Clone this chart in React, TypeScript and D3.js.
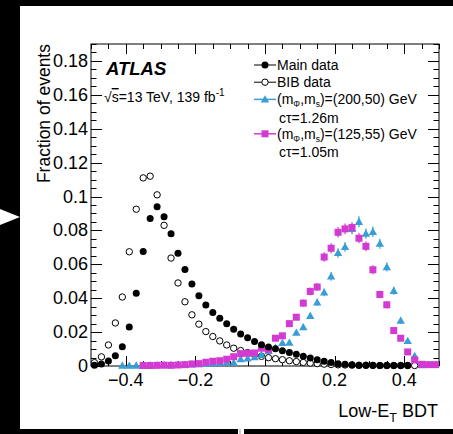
import React from 'react';
import * as d3 from 'd3';

// bins: 50 bins of 0.02 between -0.5 and 0.5
const binLow = -0.5;
const binWidth = 0.02;

const mainData = [
  0.0005, 0.0012, 0.003, 0.006, 0.0114, 0.023, 0.043, 0.0675, 0.087, 0.094,
  0.088, 0.078, 0.0665, 0.057, 0.0484, 0.0414, 0.036, 0.0316, 0.0282, 0.0249,
  0.0217, 0.0189, 0.0166, 0.0144, 0.0125, 0.0112, 0.0102, 0.009, 0.0079, 0.0069,
  0.0058, 0.0047, 0.0037, 0.0028, 0.002, 0.0014, 0.001, 0.0007, 0.0005, 0.0004,
  0.0004, 0.0003, 0.0003, 0.0003, 0.0003, 0.0003, null, null, null, null,
];

const bibData = [
  0.002, 0.0054, 0.0124, 0.0254, 0.0407, 0.0674, 0.0925, 0.111, 0.112, 0.101,
  0.083, 0.0637, 0.049, 0.0379, 0.0302, 0.0247, 0.0203, 0.0174, 0.0148, 0.0124,
  0.0105, 0.0091, 0.0079, 0.0067, 0.0057, 0.0049, 0.0043, 0.0037, 0.0031, 0.0026,
  0.0021, 0.0017, 0.0014, 0.0011, 0.0009, 0.0007, 0.0006, 0.0005, 0.0004, 0.0004,
  0.0003, 0.0003, 0.0003, 0.0003, 0.0003, 0.0003, 0.0003, null, null, null,
];

const sig200 = [
  null, null, null, null, 0.0002, 0.0002, 0.0003, 0.0003, 0.0004, 0.0005,
  0.0005, 0.0006, 0.0007, 0.0008, 0.0009, 0.0011, 0.0013, 0.0016, 0.0019, 0.0021,
  0.002, 0.004, 0.0045, 0.0052, 0.0066, 0.009, 0.0108, 0.0136, 0.0138, 0.0197,
  0.0229, 0.0296, 0.0375, 0.0434, 0.0529, 0.0667, 0.0703, 0.0809, 0.0851, 0.0781,
  0.0792, 0.0722, 0.0584, 0.0444, 0.0268, 0.0148, 0.006, 0.0006, null, null,
];

const sig125 = [
  null, null, null, null, null, null, null, 0.0003, 0.0003, 0.0004,
  0.0005, 0.0004, 0.0006, 0.0008, 0.0012, 0.0014, 0.0022, 0.0028, 0.0031, 0.004,
  0.0055, 0.0073, 0.0075, 0.0077, 0.0105, 0.0098, 0.0164, 0.0178, 0.025, 0.0288,
  0.0371, 0.044, 0.0466, 0.0643, 0.0695, 0.0789, 0.0809, 0.0817, 0.0754, 0.0706,
  0.0568, 0.0422, 0.0361, 0.0209, 0.0164, 0.0083, 0.0036, 0.001, 0.0008, 0.0008,
];

const yTicks = [0, 0.02, 0.04, 0.06, 0.08, 0.1, 0.12, 0.14, 0.16, 0.18];
const yTickLabels = ['0', '0.02', '0.04', '0.06', '0.08', '0.1', '0.12', '0.14', '0.16', '0.18'];
const xTicks = [-0.4, -0.2, 0, 0.2, 0.4];
const xTickLabels = ['\u22120.4', '\u22120.2', '0', '0.2', '0.4'];

const colors = { main: '#000000', bib: '#000000', sig200: '#3a9ed6', sig125: '#d23ad2' };
const FONT = '"Liberation Sans", Arial, Helvetica, sans-serif';

const plot = { left: 91, right: 439, top: 44, bottom: 366 };

const App = () => {
  const x = d3.scaleLinear().domain([-0.5, 0.5]).range([plot.left, plot.right]);
  const y = d3.scaleLinear().domain([0, 0.19]).range([plot.bottom, plot.top]);
  const cx = (i: number) => x(binLow + (i + 0.5) * binWidth);

  const xMinor = d3.range(-0.5, 0.5001, 0.05);
  const yMinor = d3.range(0, 0.1901, 0.005);

  // error bars on the signal samples (stat-like)
  const err = (v: number) => 0.011 * Math.sqrt(v);

  const tri = (px: number, py: number, s = 4.2) =>
    `M${px},${py - s}L${px + s},${py + s * 0.75}L${px - s},${py + s * 0.75}Z`;

  const legendY = d3.scaleLinear().domain([0, 5]).range([65, 151]);
  const legX = 265;

  return (
    <div style={{ position: 'fixed', left: 0, top: 0 }}>
      <svg width={453} height={434} style={{ display: 'block', background: '#fff' }} fontFamily={FONT}>
        {/* black frame bits from the screenshot */}
        <rect x={0} y={0} width={453} height={6} fill="#000" />
        <rect x={0} y={0} width={20} height={434} fill="#000" />
        <rect x={0} y={429} width={238} height={5} fill="#000" />
        <rect x={244} y={429} width={209} height={5} fill="#000" />
        <rect x={239} y={429} width={2} height={5} fill="#ccc" />
        <path d="M0,209L20,217L0,225Z" fill="#fff" />

        {/* frame */}
        <rect x={plot.left} y={plot.top} width={plot.right - plot.left} height={plot.bottom - plot.top}
          fill="none" stroke="#000" strokeWidth={1} />

        {/* y ticks */}
        {yMinor.map((t, i) => {
          const major = Math.abs(t / 0.02 - Math.round(t / 0.02)) < 1e-6;
          const len = major ? 11 : 5.5;
          const yy = Math.round(y(t)) + 0.5;
          return (
            <g key={`ym${i}`}>
              <line x1={plot.left} x2={plot.left + len} y1={yy} y2={yy} stroke="#000" />
              <line x1={plot.right - len} x2={plot.right} y1={yy} y2={yy} stroke="#000" />
            </g>
          );
        })}
        {yTicks.map((t, i) => (
          <text key={`yl${i}`} x={88} y={y(t)} textAnchor="end" dominantBaseline="central" fontSize={18}>
            {yTickLabels[i]}
          </text>
        ))}

        {/* x ticks */}
        {xMinor.map((t, i) => {
          const major = xTicks.some(m => Math.abs(m - t) < 1e-6);
          const len = major ? 10 : 5;
          const xx = Math.round(x(t)) + 0.5;
          return (
            <g key={`xm${i}`}>
              <line x1={xx} x2={xx} y1={plot.bottom} y2={plot.bottom - len} stroke="#000" />
              <line x1={xx} x2={xx} y1={plot.top} y2={plot.top + len} stroke="#000" />
            </g>
          );
        })}
        {xTicks.map((t, i) => (
          <text key={`xl${i}`} x={x(t)} y={386} textAnchor="middle" fontSize={18}>
            {xTickLabels[i]}
          </text>
        ))}

        {/* axis titles */}
        <text x={438} y={417} textAnchor="end" fontSize={18}>
          Low-E<tspan fontSize={12.5} dy={5}>T</tspan><tspan dy={-5}> BDT</tspan>
        </text>
        <text transform="translate(50,44) rotate(-90)" textAnchor="end" fontSize={17.5}>
          Fraction of events
        </text>

        {/* signal error bars */}
        {[{ d: sig200, c: colors.sig200 }, { d: sig125, c: colors.sig125 }].map((s, k) => (
          <g key={`err${k}`}>
            {s.d.map((v, i) => v == null ? null : (
              <line key={i} x1={cx(i)} x2={cx(i)} y1={y(v + err(v))} y2={y(Math.max(0, v - err(v)))}
                stroke={s.c} strokeWidth={1.2} />
            ))}
          </g>
        ))}

        {/* BIB data: open circles */}
        {bibData.map((v, i) => v == null ? null : (
          <circle key={`b${i}`} cx={cx(i)} cy={y(v)} r={3.2} fill="#fff" stroke={colors.bib} strokeWidth={1} />
        ))}
        {/* signal (200,50) triangles */}
        {sig200.map((v, i) => v == null ? null : (
          <path key={`s1${i}`} d={tri(cx(i), y(v))} fill={colors.sig200} />
        ))}
        {/* signal (125,55) squares */}
        {sig125.map((v, i) => v == null ? null : (
          <rect key={`s2${i}`} x={cx(i) - 3.5} y={y(v) - 3.5} width={7} height={7} fill={colors.sig125} />
        ))}
        {/* main data: filled circles */}
        {mainData.map((v, i) => v == null ? null : (
          <circle key={`m${i}`} cx={cx(i)} cy={y(v)} r={3.5} fill={colors.main} />
        ))}

        {/* ATLAS label */}
        <text x={106} y={75} fontSize={18.5} fontWeight="bold" fontStyle="italic">ATLAS</text>
        <text x={104} y={102} fontSize={14}>
          √<tspan textDecoration="overline">s</tspan>=13 TeV, 139 fb<tspan fontSize={10} dy={-6}>-1</tspan>
        </text>

        {/* legend */}
        <g fontSize={14}>
          <line x1={legX - 11} x2={legX + 11} y1={legendY(0)} y2={legendY(0)} stroke={colors.main} />
          <circle cx={legX} cy={legendY(0)} r={3.5} fill={colors.main} />
          <text x={277} y={legendY(0)} dominantBaseline="central">Main data</text>

          <line x1={legX - 11} x2={legX + 11} y1={legendY(1)} y2={legendY(1)} stroke={colors.bib} />
          <circle cx={legX} cy={legendY(1)} r={3.2} fill="#fff" stroke={colors.bib} />
          <text x={277} y={legendY(1)} dominantBaseline="central">BIB data</text>

          <line x1={legX - 11} x2={legX + 11} y1={legendY(2)} y2={legendY(2)} stroke={colors.sig200} strokeWidth={1.5} />
          <path d={tri(legX, legendY(2))} fill={colors.sig200} />
          <text x={277} y={legendY(2) + 5}>
            (m<tspan fontSize={8.5} dy={3}>Φ</tspan><tspan dy={-3}>,m</tspan><tspan fontSize={8.5} dy={3}>s</tspan><tspan dy={-3}>)=(200,50) GeV</tspan>
          </text>
          <text x={279} y={legendY(3) + 1} dominantBaseline="central">cτ=1.26m</text>

          <line x1={legX - 11} x2={legX + 11} y1={legendY(4)} y2={legendY(4)} stroke={colors.sig125} strokeWidth={1.5} />
          <rect x={legX - 3.5} y={legendY(4) - 3.5} width={7} height={7} fill={colors.sig125} />
          <text x={277} y={legendY(4) + 5}>
            (m<tspan fontSize={8.5} dy={3}>Φ</tspan><tspan dy={-3}>,m</tspan><tspan fontSize={8.5} dy={3}>s</tspan><tspan dy={-3}>)=(125,55) GeV</tspan>
          </text>
          <text x={279} y={legendY(5) + 1} dominantBaseline="central">cτ=1.05m</text>
        </g>
      </svg>
    </div>
  );
};

export default App;
